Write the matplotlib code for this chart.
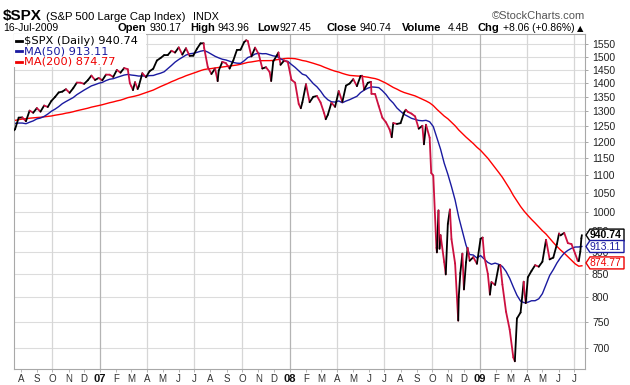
import matplotlib
matplotlib.use('Agg')
import matplotlib.pyplot as plt
import matplotlib.dates as mdates
from matplotlib.collections import LineCollection
from matplotlib.ticker import FixedLocator, NullLocator, FixedFormatter
from matplotlib.patches import Polygon, Rectangle
from matplotlib.lines import Line2D
import numpy as np
import pandas as pd

# ---------------- data ----------------
weekly_start = '2005-10-07'
weekly_close = [
    # 2005 (Oct-Dec)
    1195.9, 1186.6, 1179.6, 1198.4, 1220.1, 1234.7, 1248.3, 1268.3, 1265.1, 1259.4, 1267.3, 1268.7, 1248.3,
    # 2006
    1285.5, 1287.6, 1261.5, 1283.7, 1264.0, 1267.0, 1287.2, 1289.4, 1287.2, 1281.4, 1307.3, 1303.0, 1294.9,
    1295.5, 1289.1, 1311.3, 1310.6, 1325.8, 1291.2, 1267.0, 1280.2, 1288.2, 1252.3, 1251.5, 1244.5, 1270.2,
    1265.5, 1236.2, 1240.3, 1278.6, 1279.4, 1266.7, 1302.3, 1295.1, 1311.0, 1298.9, 1319.7, 1314.8, 1335.9,
    1349.6, 1365.6, 1368.6, 1377.3, 1364.3, 1380.9, 1401.2, 1401.0, 1396.7, 1409.8, 1427.1, 1410.8, 1418.3,
    # 2007
    1409.7, 1430.7, 1430.5, 1422.2, 1448.4, 1438.1, 1455.5, 1451.2, 1387.2, 1402.8, 1387.0, 1436.1, 1420.9,
    1443.8, 1452.9, 1484.4, 1494.1, 1505.6, 1505.9, 1522.8, 1515.7, 1536.3, 1507.7, 1532.9, 1502.6, 1503.4,
    1530.4, 1552.5, 1534.1, 1459.0, 1433.1, 1453.6, 1445.9, 1479.4, 1474.0, 1453.6, 1484.3, 1525.8, 1526.8,
    1557.6, 1561.8, 1500.6, 1535.3, 1509.7, 1453.7, 1458.7, 1440.7, 1481.1, 1504.7, 1468.0, 1484.5, 1478.5,
    # 2008
    1411.6, 1401.0, 1325.2, 1330.6, 1395.4, 1331.3, 1350.0, 1353.1, 1330.6, 1293.4, 1288.1, 1329.5, 1315.2,
    1370.4, 1332.8, 1390.3, 1397.8, 1413.9, 1388.3, 1425.4, 1375.9, 1400.4, 1360.7, 1360.0, 1317.9, 1278.4,
    1262.9, 1239.5, 1260.7, 1257.8, 1260.3, 1296.3, 1298.2, 1292.2, 1282.8, 1242.3, 1251.7, 1255.1, 1213.3,
    1099.2, 899.2, 940.6, 876.8, 968.8, 931.0, 873.3, 800.0, 896.2, 876.1, 879.7, 887.9, 872.8,
    # 2009 (Jan-Jul 10)
    931.8, 890.4, 850.1, 832.0, 825.9, 868.6, 826.8, 770.1, 735.1, 683.4, 756.6, 768.5, 815.9,
    842.5, 856.6, 869.6, 866.2, 877.5, 929.2, 882.9, 887.0, 919.1, 940.1, 946.2, 921.2, 918.9,
    896.4, 879.1,
]
last_date = '2009-07-16'
last_close = 940.74

extra_dates = [
    '2006-07-17', '2007-02-27', '2007-03-05', '2007-03-14', '2007-07-19', '2007-08-15', '2007-10-09',
    '2007-11-26', '2007-12-10', '2008-01-22', '2008-03-10', '2008-05-19', '2008-06-05', '2008-07-15',
    '2008-08-11', '2008-09-15', '2008-09-29', '2008-10-09', '2008-10-13', '2008-10-15', '2008-10-27',
    '2008-11-04', '2008-11-20', '2008-11-24', '2008-12-01', '2008-12-08', '2009-01-06', '2009-01-20',
    '2009-02-09', '2009-03-09', '2009-03-26', '2009-03-30', '2009-06-02', '2009-07-08', '2009-07-13',
    '2009-07-15',
]
extra_close = [
    1234.5, 1399.0, 1374.1, 1378.0, 1553.1, 1406.7, 1565.2,
    1407.2, 1516.0, 1310.5, 1273.4, 1426.6, 1404.1, 1214.9,
    1305.3, 1192.7, 1106.4, 909.9, 1003.4, 907.8, 848.9,
    1005.8, 752.4, 851.8, 816.2, 909.7, 934.7, 805.2,
    869.9, 676.5, 832.9, 787.5, 944.7, 879.6, 901.1,
    932.7,
]

ma50_label = 913.11
ma200_label = 874.77

y_ticks = [700, 750, 800, 850, 900, 950, 1000, 1050, 1100, 1150, 1200, 1250, 1300,
           1350, 1400, 1450, 1500, 1550]
month_letters = ['A', 'S', 'O', 'N', 'D', '07', 'F', 'M', 'A', 'M', 'J', 'J', 'A', 'S', 'O', 'N', 'D',
                 '08', 'F', 'M', 'A', 'M', 'J', 'J', 'A', 'S', 'O', 'N', 'D',
                 '09', 'F', 'M', 'A', 'M', 'J', 'J']

# ---------------- build series ----------------
wk_idx = pd.date_range(weekly_start, periods=len(weekly_close), freq='W-FRI')
weekly = pd.Series(weekly_close, index=wk_idx)
weekly.loc[pd.Timestamp(last_date)] = last_close
ma50 = weekly.rolling(10).mean()
ma200 = weekly.rolling(40).mean()

price = pd.concat([weekly, pd.Series(extra_close, index=pd.to_datetime(extra_dates))]).sort_index()
price = price[~price.index.duplicated()]

xmin = pd.Timestamp('2006-07-19')
xmax = pd.Timestamp('2009-07-22')

# ---------------- figure ----------------
W, H = 630, 385
fig = plt.figure(figsize=(W / 100, H / 100), dpi=100)
fig.patch.set_facecolor('white')
L, R, T, B = 14, 585, 34, 369
ax = fig.add_axes([L / W, 1 - B / H, (R - L) / W, (B - T) / H])
ax.set_yscale('log')
ax.set_xlim(xmin, xmax)
ax.set_ylim(663, 1591)

# grid
for v in y_ticks:
    ax.axhline(v, color='#dcdcdc', lw=0.8, zorder=0)
for q in pd.date_range('2006-10-01', '2009-07-01', freq='QS'):
    c = '#b4b4b4' if q.month == 1 else '#d6d6d6'
    ax.axvline(q, color=c, lw=0.9, zorder=0)

# MAs
ax.plot(ma200.index, ma200.values, color='#ff0000', lw=1.0, zorder=2)
ax.plot(ma50.index, ma50.values, color='#1a1aa0', lw=1.0, zorder=2)

# price line: black up, red down
xn = mdates.date2num(price.index.to_pydatetime())
yv = price.values
segs = [[(xn[i], yv[i]), (xn[i + 1], yv[i + 1])] for i in range(len(xn) - 1)]
cols = ['#000000' if yv[i + 1] >= yv[i] else '#cc1040' for i in range(len(xn) - 1)]
ax.add_collection(LineCollection(segs, colors=cols, linewidths=1.3, zorder=3, capstyle='round'))

# axes styling
for s in ax.spines.values():
    s.set_color('#a8a8a8')
    s.set_linewidth(0.8)
ax.yaxis.tick_right()
ax.yaxis.set_major_locator(FixedLocator(y_ticks))
ax.yaxis.set_major_formatter(FixedFormatter([str(v) for v in y_ticks]))
ax.yaxis.set_minor_locator(NullLocator())
ax.tick_params(axis='y', which='major', length=2, width=0.6, color='#999999', pad=3,
               labelsize=7.5, labelcolor='#222222')
for lab in ax.get_yticklabels():
    lab.set_fontfamily('Liberation Sans')

months = pd.date_range('2006-08-01', '2009-07-01', freq='MS')
ax.xaxis.set_major_locator(FixedLocator(mdates.date2num(months.to_pydatetime())))
ax.xaxis.set_major_formatter(FixedFormatter(month_letters))
ax.tick_params(axis='x', which='major', length=2, width=0.6, color='#aaaaaa', pad=1.5,
               labelsize=7, labelcolor='#333333')
ax.xaxis.set_minor_locator(NullLocator())
for lab in ax.get_xticklabels():
    lab.set_fontfamily('Liberation Sans')
    if lab.get_text().isdigit():
        lab.set_fontweight('bold')
        lab.set_fontsize(8)
        lab.set_color('#111111')

# ---------------- header ----------------
def ftext(x, y, s, **kw):
    fig.text(x / W, 1 - y / H, s, va='baseline', **kw)

ftext(3, 20, '$SPX', fontsize=11, fontweight='bold', family='Liberation Sans')
ftext(46, 20, '(S&P 500 Large Cap Index)', fontsize=8.2, family='Liberation Sans')
ftext(193, 20, 'INDX', fontsize=7.8, family='Liberation Sans')
ftext(585, 19, '\u00a9StockCharts.com', fontsize=8, family='Liberation Sans', color='#555555', ha='right')
ftext(3, 31, '16-Jul-2009', fontsize=7.5, family='Liberation Sans')
parts = [(118, 'Open', True), (150, '930.17', False), (190, 'High', True), (218, '943.96', False),
         (257, 'Low', True), (280, '927.45', False), (326, 'Close', True), (360, '940.74', False),
         (402, 'Volume', True), (448, '4.4B', False), (478, 'Chg', True), (503, '+8.06 (+0.86%)', False)]
for x, s, b in parts:
    ftext(x, 31, s, fontsize=8 if b else 7.5, fontweight='bold' if b else 'normal',
          family='Liberation Sans')
ftext(577, 31, '\u25b2', fontsize=6, family='DejaVu Sans')

# ---------------- legend ----------------
fig.add_artist(Rectangle((L / W, 1 - 67 / H), 132 / W, 33 / H, transform=fig.transFigure,
                         facecolor='white', edgecolor='none', zorder=5))
leg = [('$SPX (Daily) 940.74', '#000000', 40.5), ('MA(50) 913.11', '#1a1aa0', 51),
       ('MA(200) 874.77', '#ee0000', 61.5)]
for s, c, y in leg:
    fig.add_artist(Line2D([16 / W, 22 / W], [1 - y / H, 1 - y / H], transform=fig.transFigure,
                          color=c, lw=2, zorder=6))
    fig.text(23.5 / W, 1 - y / H, s, color=c, fontsize=8.2, va='center', family='DejaVu Sans', zorder=6)

# ---------------- value tags ----------------
xlast = mdates.date2num(xmax.to_pydatetime())
tags = [(last_close, '940.74', '#000000', True), (ma50_label, '913.11', '#1a1aa0', False),
        (ma200_label, '874.77', '#ee0000', False)]
for v, s, ec, bold in tags:
    yd = ax.transData.transform((xlast, v))[1]
    ypx = H - yd
    x0, x1, h = 586, 624, 6
    pts = [(x0, ypx), (x0 + 4, ypx - h), (x1, ypx - h), (x1, ypx + h), (x0 + 4, ypx + h)]
    fig.add_artist(Polygon([(p[0] / W, 1 - p[1] / H) for p in pts], closed=True,
                           transform=fig.transFigure, facecolor='white', edgecolor=ec, lw=1.0, zorder=7))
    fig.text((x0 + 19.5) / W, 1 - ypx / H, s, color=ec, fontsize=7.5,
             fontweight='bold' if bold else 'normal',
             va='center', ha='center', family='Liberation Sans', zorder=8)

fig.savefig('out.png', dpi=100)
